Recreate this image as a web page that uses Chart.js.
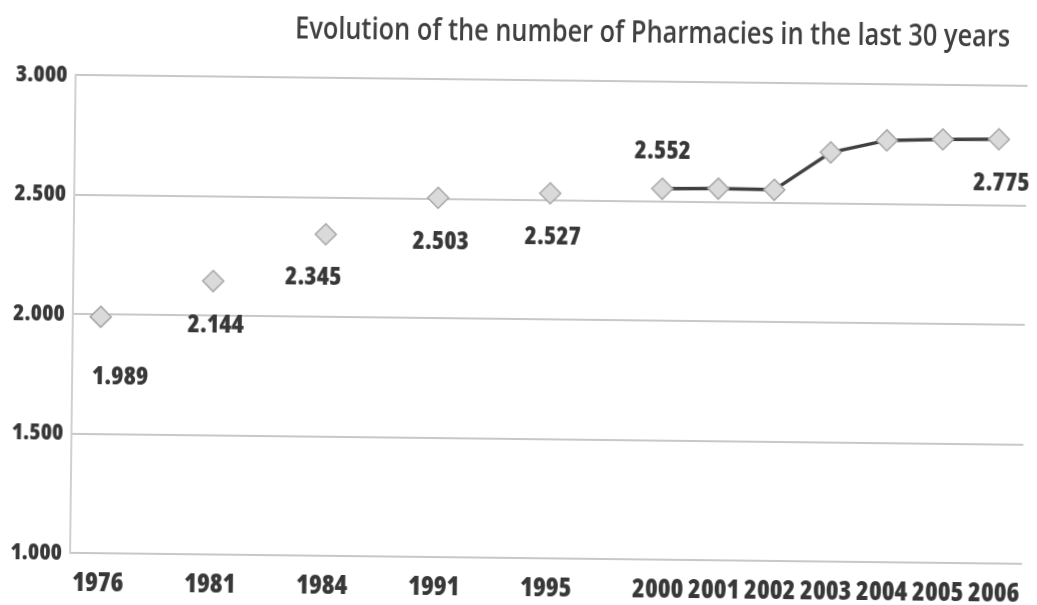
<!DOCTYPE html>
<html lang="en">
<head>
<meta charset="utf-8">
<title>Evolution of the number of Pharmacies</title>
<script src="https://cdn.jsdelivr.net/npm/chart.js@4/dist/chart.umd.min.js"></script>
<style>
    html, body { margin: 0; padding: 0; background: #fff; }
    .quadro { width: 1037px; height: 605px; position: relative; transform: rotate(0.66deg); }
</style>
</head>
<body>
<div class="quadro"><canvas id="grafico"></canvas></div>
<script>
// Dados
const titulo = 'Evolution of the number of Pharmacies in the last 30 years';
const anos = ['1976', '1981', '1984', '1991', '1995', '2000', '2001', '2002', '2003', '2004', '2005', '2006'];
const farmacias = [1989, 2144, 2345, 2503, 2527, 2552, 2555, 2553, 2712, 2765, 2772, 2775];
const anosComRotulo = ['1976', '1981', '1984', '1991', '1995', '2000', '2006'];
const ticksY = [1000, 1500, 2000, 2500, 3000];

const corTexto = '#383838';
const fonteNum = '"Open Sans", "Roboto Condensed", sans-serif';
const pesoNum = 'condensed 800';

// Formata 2552 -> "2.552"
function formatarNumero(v) {
    return String(v).replace(/\B(?=(\d{3})+(?!\d))/g, '.');
}

// Antes de 2000 os anos ficam com o dobro do espaço no eixo
const rotulosEixo = [];
const valoresEixo = [];
anos.forEach((ano, i) => {
    rotulosEixo.push(ano);
    valoresEixo.push(farmacias[i]);
    if (Number(ano) < 2000) {
        rotulosEixo.push('');
        valoresEixo.push(null);
    }
});

// Fundo branco e título à direita, como na figura
const pluginTitulo = {
    id: 'titulo',
    beforeDraw(chart) {
        const ctx = chart.ctx;
        ctx.save();
        ctx.fillStyle = '#fff';
        ctx.fillRect(0, 0, chart.width, chart.height);
        ctx.fillStyle = '#404040';
        ctx.font = '600 30px "Open Sans", sans-serif';
        ctx.textAlign = 'right';
        ctx.textBaseline = 'alphabetic';
        ctx.fillText(titulo, 1007, 41, 715);
        ctx.restore();
    }
};

// Rótulos de valor junto aos pontos
const deslocamentos = { '1976': [20, 60], '1984': [-12, 43], '2000': [0, -37] };
const pluginRotulos = {
    id: 'rotulos',
    afterDatasetsDraw(chart) {
        const ctx = chart.ctx;
        const meta = chart.getDatasetMeta(0);
        ctx.save();
        ctx.fillStyle = corTexto;
        ctx.font = pesoNum + ' 25px ' + fonteNum;
        ctx.textAlign = 'center';
        ctx.textBaseline = 'middle';
        rotulosEixo.forEach((ano, i) => {
            if (!anosComRotulo.includes(ano)) return;
            const p = meta.data[i];
            const d = deslocamentos[ano] || [3, 44];
            ctx.fillText(formatarNumero(valoresEixo[i]), p.x + d[0], p.y + d[1]);
        });
        ctx.restore();
    }
};

function renderizarGrafico() {
    const ctx = document.getElementById('grafico').getContext('2d');
    new Chart(ctx, {
        type: 'line',
        data: {
            labels: rotulosEixo,
            datasets: [{
                label: 'Pharmacies',
                data: valoresEixo,
                spanGaps: false,
                borderColor: '#404040',
                borderWidth: 3.5,
                pointStyle: 'rectRot',
                pointRadius: 10.5,
                pointBackgroundColor: '#dadada',
                pointBorderColor: '#a8a8a8',
                pointBorderWidth: 1.5,
                tension: 0
            }]
        },
        options: {
            responsive: true,
            maintainAspectRatio: false,
            animation: false,
            layout: { padding: { left: 2, right: 2, top: 80, bottom: 0 } },
            plugins: {
                legend: { display: false },
                title: { display: false },
                tooltip: { enabled: false }
            },
            scales: {
                x: {
                    offset: true,
                    grid: { display: false },
                    border: { display: false },
                    afterFit: (scale) => { scale.height = 47; },
                    ticks: {
                        autoSkip: false,
                        maxRotation: 0,
                        padding: 7,
                        color: corTexto,
                        font: { family: fonteNum, size: 26, weight: pesoNum }
                    }
                },
                y: {
                    min: ticksY[0],
                    max: ticksY[ticksY.length - 1],
                    afterFit: (scale) => { scale.width = 71; },
                    afterBuildTicks: (scale) => { scale.ticks = ticksY.map(v => ({ value: v })); },
                    grid: { color: '#c8c8c8', lineWidth: 2, drawTicks: false },
                    border: { display: true, color: '#d0d0d0', width: 2 },
                    ticks: {
                        padding: 8,
                        color: corTexto,
                        font: { family: fonteNum, size: 23, weight: pesoNum },
                        callback: (v) => formatarNumero(v)
                    }
                }
            }
        },
        plugins: [pluginTitulo, pluginRotulos]
    });
}

document.addEventListener('DOMContentLoaded', renderizarGrafico);
</script>
</body>
</html>
